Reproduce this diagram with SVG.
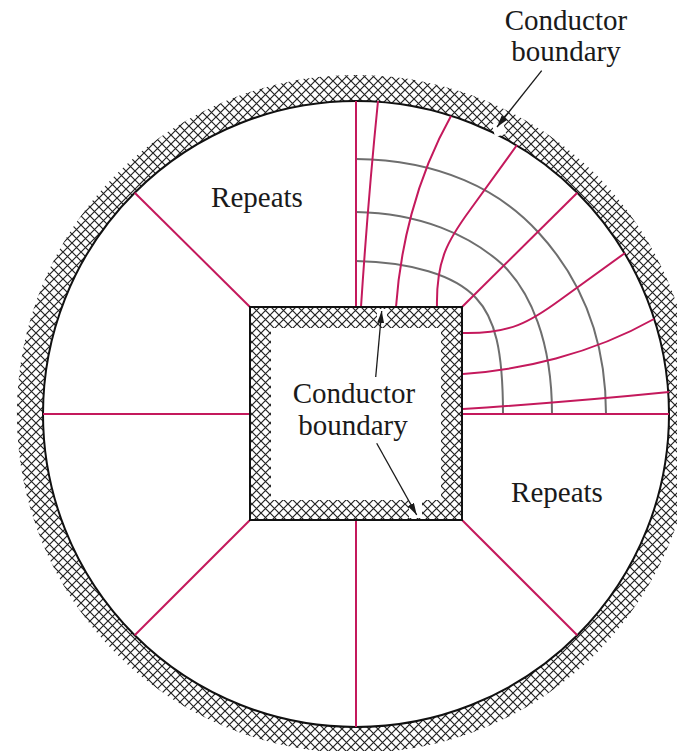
<svg xmlns="http://www.w3.org/2000/svg" width="677" height="751" viewBox="0 0 677 751">
<style>
.fl{fill:none;stroke:#C4195C;stroke-width:2}
.eq{fill:none;stroke:#6e6e6e;stroke-width:2}
.lbl{font-family:"Liberation Serif","Times New Roman",serif;font-size:29px;fill:#1a1a1a;text-anchor:middle}
.arr{stroke:#1a1a1a;stroke-width:1.3;fill:none;marker-end:url(#ah)}
</style>
<defs>
<pattern id="hatch" width="9" height="9" patternUnits="userSpaceOnUse">
<rect width="9" height="9" fill="#fff"/>
<path d="M-1,-1L10,10M10,-1L-1,10" stroke="#222" stroke-width="1.2"/>
</pattern>
<marker id="ah" markerWidth="12" markerHeight="7" refX="12" refY="3.5" orient="auto" markerUnits="userSpaceOnUse">
<path d="M0,0L12,3.5L0,7z" fill="#1a1a1a"/>
</marker>
</defs>
<rect width="677" height="751" fill="#fff"/>
<g id="outer-conductor">
<path d="M356,75A339,339 0 1,0 356,753A339,339 0 1,0 356,75ZM356,101A313,313 0 1,1 356,727A313,313 0 1,1 356,101Z" fill="url(#hatch)" fill-rule="evenodd"/>
<circle cx="356" cy="414" r="313" fill="none" stroke="#111" stroke-width="2"/>
</g>
<g id="connectors">
<path class="eq" d="M356,261C410,262 455,275 476,298C495,318 503,350 503,414"/>
<path class="eq" d="M356,212C420,213 470,235 503,265C530,292 552,340 552,414"/>
<path class="eq" d="M356,159C440,160 500,190 538,232C575,272 606,330 606,414"/>
<path class="fl" d="M356,307L356,101"/>
<path class="fl" d="M361,307Q368,200 378,101"/>
<path class="fl" d="M396,307C400,250 415,180 451,116"/>
<path class="fl" d="M437,307C436,260 448,240 470,210L517,145"/>
<path class="fl" d="M462,307L577.3,192.7"/>
<path class="fl" d="M463,333C510,334 530,322 560,300L625,253"/>
<path class="fl" d="M463,374C520,370 590,355 654,319"/>
<path class="fl" d="M463,409Q570,402 669,392"/>
<path class="fl" d="M462,414L669,414"/>
<path class="fl" d="M250,307L134.7,192.7"/>
<path class="fl" d="M43,414L250,414"/>
<path class="fl" d="M250,520L134.7,635.3"/>
<path class="fl" d="M356,520L356,727"/>
<path class="fl" d="M462,520L577.3,635.3"/>
</g>
<g id="inner-conductor">
<rect x="250" y="307" width="212" height="213" fill="url(#hatch)" stroke="#111" stroke-width="2"/>
<rect x="271" y="328" width="170" height="172" fill="#fff"/>
<rect x="377" y="309" width="10" height="14" fill="#fff"/>
<rect x="409" y="500" width="13" height="18" fill="#fff"/>
</g>
<g id="outer-gap">
<path d="M492,124L503,121L506,134L495,137Z" fill="#fff"/>
</g>
<g id="label-top">
<text class="lbl" x="566" y="30">Conductor</text>
<text class="lbl" x="566" y="61">boundary</text>
<path class="arr" d="M541.7,70.7L497,127"/>
</g>
<g id="label-center">
<text class="lbl" x="354" y="403">Conductor</text>
<text class="lbl" x="353" y="435">boundary</text>
<path class="arr" d="M375.7,377L381.7,311"/>
<path class="arr" d="M376.7,443.3L416.7,515"/>
</g>
<g id="label-repeats-1"><text class="lbl" x="257" y="207">Repeats</text></g>
<g id="label-repeats-2"><text class="lbl" x="557" y="502">Repeats</text></g>
</svg>
